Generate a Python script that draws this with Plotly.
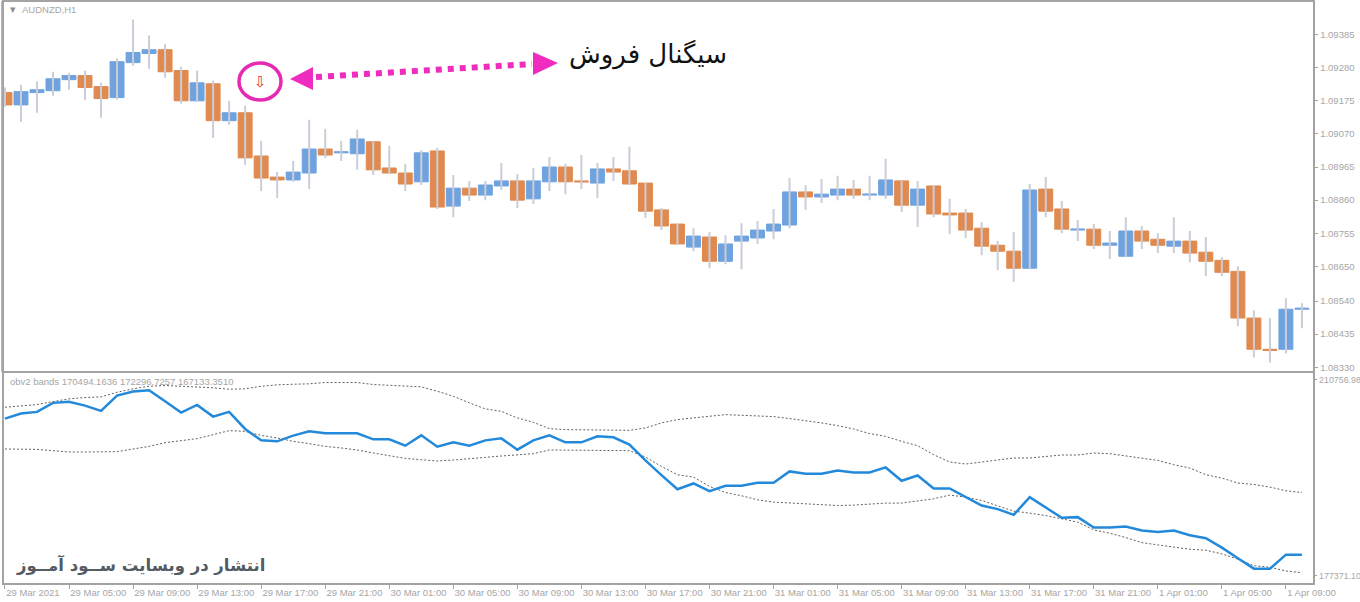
import plotly.graph_objects as go

TIME_TICK_BARS = [0,4,8,12,16,20,24,28,32,36,40,44,48,52,56,60,64,68,72,76,80]
TIME_LABELS = ["29 Mar 2021","29 Mar 05:00","29 Mar 09:00","29 Mar 13:00","29 Mar 17:00","29 Mar 21:00",
               "30 Mar 01:00","30 Mar 05:00","30 Mar 09:00","30 Mar 13:00","30 Mar 17:00","30 Mar 21:00",
               "31 Mar 01:00","31 Mar 05:00","31 Mar 09:00","31 Mar 13:00","31 Mar 17:00","31 Mar 21:00",
               "1 Apr 01:00","1 Apr 05:00","1 Apr 09:00"]
PRICE_TICKS = [1.09385,1.09280,1.09175,1.09070,1.08965,1.08860,1.08755,1.08650,1.08540,1.08435,1.08330]
OBV_TICKS = [210756.98,177371.10]

OPEN = [1.09201,1.09162,1.09201,1.09207,1.09242,1.09255,1.09220,1.09185,1.09296,1.09325,
        1.09337,1.09271,1.09175,1.09229,1.09112,1.09137,1.09000,1.08933,1.08924,1.08946,
        1.09022,1.09010,1.09007,1.09045,1.08962,1.08946,1.08918,1.09016,1.08841,1.08898,
        1.08876,1.08905,1.08921,1.08864,1.08918,1.08965,1.08921,1.08914,1.08959,1.08953,
        1.08914,1.08829,1.08784,1.08711,1.08743,1.08666,1.08730,1.08740,1.08762,1.08781,
        1.08886,1.08870,1.08876,1.08895,1.08876,1.08876,1.08921,1.08844,1.08905,1.08819,
        1.08819,1.08771,1.08717,1.08698,1.08644,1.08895,1.08832,1.08765,1.08768,1.08717,
        1.08682,1.08762,1.08736,1.08714,1.08730,1.08695,1.08669,1.08634,1.08486,1.08387,
        1.08387,1.08514]
HIGH = [1.09217,1.09226,1.09236,1.09267,1.09264,1.09271,1.09232,1.09309,1.09433,1.09382,
        1.09356,1.09283,1.09271,1.09239,1.09175,1.09159,1.09048,1.08949,1.08984,1.09115,
        1.09086,1.09048,1.09083,1.09045,1.09032,1.08975,1.09019,1.09026,1.08940,1.08921,
        1.08921,1.08978,1.08943,1.08962,1.08997,1.08975,1.09003,1.08978,1.08997,1.09029,
        1.08914,1.08835,1.08784,1.08771,1.08759,1.08749,1.08787,1.08794,1.08832,1.08930,
        1.08908,1.08927,1.08937,1.08924,1.08937,1.08991,1.08921,1.08921,1.08908,1.08864,
        1.08832,1.08790,1.08730,1.08759,1.08911,1.08933,1.08857,1.08797,1.08784,1.08762,
        1.08806,1.08778,1.08755,1.08806,1.08762,1.08743,1.08679,1.08650,1.08511,1.08486,
        1.08549,1.08533]
LOW = [1.09156,1.09108,1.09137,1.09191,1.09210,1.09178,1.09121,1.09178,1.09286,1.09277,
       1.09248,1.09166,1.09172,1.09057,1.09099,1.08972,1.08889,1.08867,1.08918,1.08895,
       1.08994,1.08984,1.08956,1.08940,1.08946,1.08889,1.08908,1.08832,1.08806,1.08857,
       1.08860,1.08892,1.08835,1.08848,1.08889,1.08879,1.08895,1.08867,1.08921,1.08908,
       1.08803,1.08765,1.08717,1.08698,1.08644,1.08657,1.08641,1.08721,1.08736,1.08771,
       1.08829,1.08851,1.08860,1.08864,1.08860,1.08864,1.08822,1.08775,1.08806,1.08752,
       1.08740,1.08685,1.08638,1.08600,1.08641,1.08806,1.08755,1.08730,1.08705,1.08673,
       1.08679,1.08705,1.08692,1.08692,1.08663,1.08619,1.08619,1.08460,1.08361,1.08345,
       1.08374,1.08454]
CLOSE = [1.09162,1.09204,1.09210,1.09245,1.09255,1.09217,1.09182,1.09299,1.09328,1.09337,
         1.09267,1.09175,1.09232,1.09112,1.09137,1.08994,1.08930,1.08924,1.08949,1.09022,
         1.09003,1.09013,1.09054,1.08956,1.08946,1.08911,1.09010,1.08838,1.08898,1.08876,
         1.08908,1.08921,1.08860,1.08921,1.08965,1.08918,1.08918,1.08959,1.08949,1.08911,
         1.08825,1.08778,1.08721,1.08746,1.08666,1.08721,1.08746,1.08765,1.08784,1.08886,
         1.08870,1.08879,1.08895,1.08876,1.08879,1.08924,1.08844,1.08895,1.08816,1.08813,
         1.08765,1.08714,1.08698,1.08644,1.08892,1.08825,1.08768,1.08768,1.08717,1.08724,
         1.08762,1.08730,1.08717,1.08730,1.08692,1.08666,1.08631,1.08486,1.08387,1.08383,
         1.08514,1.08517]

OBV = [204113,204964,205254,206787,206957,206327,205424,208030,208712,208933,
       207059,205135,206446,204453,205254,202358,200416,200246,201217,201949,
       201609,201609,201609,200587,200587,199513,201268,199343,200075,199513,
       200416,200757,198832,200416,201268,200075,200075,201096,200927,199684,
       197009,194522,192104,193092,191797,192700,192700,193211,193211,195136,
       194744,194744,195306,194965,194965,195817,193551,194454,192240,192240,
       190775,189344,188731,187760,190775,189003,187249,187368,185597,185597,
       185767,185086,184864,185086,184302,183791,182189,180384,178613,178613,
       180997,180997]
BAND_UP = [206037,206208,206497,207008,207468,207690,207809,208592,209172,209615,
           209734,209615,209512,209342,209104,209172,209615,209853,209955,210023,
           210245,210245,210245,209904,209734,209615,209512,208763,207911,206787,
           205765,205356,204232,203482,202409,202239,202239,202239,202239,202120,
           202528,203380,203942,204232,204624,204794,204675,204572,204453,204113,
           203772,203380,202920,202358,201558,201096,200246,199513,197980,196737,
           196396,196737,197129,197418,197418,197640,197929,197929,198270,198151,
           197810,197418,197009,196277,195715,194573,194011,193160,192921,192478,
           191848,191558]
BAND_LOW = [198951,198951,198883,198662,198440,198440,198440,198491,198951,199394,
            200024,200416,200706,201387,202068,201949,201268,200825,200246,199854,
            199394,199121,198781,198270,197810,197350,197129,196907,197077,197248,
            197520,197759,197980,198151,198781,198781,198781,198781,198713,198662,
            197589,195987,194573,194181,192581,191558,190996,190315,189923,189753,
            189583,189463,189344,189412,189583,189753,189753,190145,190485,191115,
            190775,190196,189293,188390,188049,187641,187079,186516,185205,184643,
            183893,183041,182650,182258,181917,181747,181117,180214,179124,178851,
            178221,177931]
BARS = list(range(len(OPEN)))

SYMBOL = "AUDNZD,H1"
INDICATOR = "obv2 bands 170494.1636 172296.7257 167133.3510"
SIGNAL_TEXT = "سیگنال فروش"
WATERMARK = "انتشار در وبسایت ســود آمــوز"
SIGNAL_BAR, SIGNAL_PRICE = 16, 1.09236

W, H = 1360, 602
FRAME = "#a3a3a3"
GREY = "#a6a6a6"
MAGENTA = "#f02cc0"
TICK_FONT = dict(family="Liberation Sans", size=9.5, color=GREY)
OBV_TICK_FONT = dict(family="Liberation Sans", size=8.9, color=GREY)

def px(x): return x / W
def py(y): return 1 - y / H

wx, wy = [], []
for i, lo, hi in zip(BARS, LOW, HIGH):
    wx += [i, i, None]
    wy += [lo, hi, None]

fig = go.Figure()
fig.add_trace(go.Scatter(x=wx, y=wy, mode="lines", line=dict(color="#cbcdd8", width=2), hoverinfo="skip",
                         showlegend=False, xaxis="x", yaxis="y"))
fig.add_trace(go.Candlestick(
    x=BARS, open=OPEN, close=CLOSE,
    high=[max(a, b) for a, b in zip(OPEN, CLOSE)], low=[min(a, b) for a, b in zip(OPEN, CLOSE)],
    increasing=dict(line=dict(color="#6fa3df", width=1), fillcolor="#6fa3df"),
    decreasing=dict(line=dict(color="#e08a4f", width=1), fillcolor="#e08a4f"),
    whiskerwidth=0, hoverinfo="skip", showlegend=False, xaxis="x", yaxis="y"))
for band in (BAND_UP, BAND_LOW):
    fig.add_trace(go.Scatter(x=BARS, y=band, mode="lines", line=dict(color="#606060", width=1, dash="2px,2px"),
                             hoverinfo="skip", showlegend=False, xaxis="x2", yaxis="y2"))
fig.add_trace(go.Scatter(x=BARS, y=OBV, mode="lines", line=dict(color="#2389db", width=2.5), hoverinfo="skip",
                         showlegend=False, xaxis="x2", yaxis="y2"))

x_dom = [px(4), px(1312.5)]
x_range = [-0.06, 81.66]
axis_common = dict(showgrid=False, zeroline=False, showline=True, linecolor=FRAME, linewidth=1.5, mirror=True,
                   automargin=False, tickcolor=FRAME, ticklen=4, tickwidth=1, tickfont=TICK_FONT)

fig.update_layout(
    width=W, height=H, margin=dict(l=0, r=0, t=0, b=0), autosize=False,
    paper_bgcolor="white", plot_bgcolor="white", showlegend=False,
    boxmode="overlay", boxgap=0.13, boxgroupgap=0,
    xaxis=dict(axis_common, domain=x_dom, range=x_range, anchor="y", showticklabels=False, ticks="",
               rangeslider=dict(visible=False)),
    yaxis=dict(axis_common, domain=[py(370.5), py(1.5)], range=[1.083197, 1.094899], anchor="x", side="right",
               ticks="outside", tickvals=PRICE_TICKS, ticktext=[f"{v:.5f}" for v in PRICE_TICKS]),
    xaxis2=dict(axis_common, domain=x_dom, range=x_range, anchor="y2", ticks="outside",
                tickvals=TIME_TICK_BARS, ticktext=TIME_LABELS, ticklabelposition="outside right", tickangle=0),
    yaxis2=dict(axis_common, domain=[py(583), py(372.5)], range=[176177, 211948], anchor="x2", side="right",
                ticks="outside", ticklen=3, tickfont=OBV_TICK_FONT,
                tickvals=OBV_TICKS, ticktext=[f"{v:.2f}" for v in OBV_TICKS]),
    shapes=[
        dict(type="line", xref="paper", yref="paper", x0=px(2), x1=px(2), y0=py(1), y1=py(372),
             line=dict(color=FRAME, width=1.5)),
        dict(type="line", xref="paper", yref="paper", x0=px(316), y0=py(77), x1=px(532), y1=py(64),
             line=dict(color=MAGENTA, width=6, dash="6px,6px")),
        dict(type="path", xref="paper", yref="paper", fillcolor=MAGENTA, line=dict(width=0),
             path=f"M{px(290)},{py(79)} L{px(313)},{py(67)} L{px(313)},{py(90)} Z"),
        dict(type="path", xref="paper", yref="paper", fillcolor=MAGENTA, line=dict(width=0),
             path=f"M{px(558)},{py(63)} L{px(533)},{py(52)} L{px(533)},{py(75)} Z"),
        dict(type="circle", xref="paper", yref="paper", x0=px(239), x1=px(281), y0=py(100), y1=py(63),
             line=dict(color="#e62ab4", width=3.5)),
    ],
    annotations=[
        dict(xref="paper", yref="paper", x=px(8), y=py(9), text="▾", showarrow=False, xanchor="left", yanchor="middle",
             font=dict(family="DejaVu Sans", size=11, color="#8f8f8f")),
        dict(xref="paper", yref="paper", x=px(20), y=py(9), text=SYMBOL, showarrow=False, xanchor="left", yanchor="middle",
             font=TICK_FONT),
        dict(xref="paper", yref="paper", x=px(8), y=py(381), text=INDICATOR, showarrow=False, xanchor="left", yanchor="middle",
             font=TICK_FONT),
        dict(x=SIGNAL_BAR - 0.05, y=SIGNAL_PRICE, xref="x", yref="y", text="⇩", showarrow=False, xanchor="center", yanchor="middle",
             font=dict(family="DejaVu Sans", size=15, color="#e8332a")),
        dict(xref="paper", yref="paper", x=px(648), y=py(54), text=SIGNAL_TEXT, showarrow=False, xanchor="center", yanchor="middle",
             font=dict(family="DejaVu Sans", size=26, color="#111111")),
        dict(xref="paper", yref="paper", x=px(140), y=py(565), text=f"<b>{WATERMARK}</b>", showarrow=False, xanchor="center", yanchor="middle",
             font=dict(family="DejaVu Sans", size=16.5, color="#555b62")),
    ],
)

fig.write_html("out.html", config=dict(displayModeBar=False),
               post_script="document.body.style.margin='0';document.body.style.overflow='hidden';")
